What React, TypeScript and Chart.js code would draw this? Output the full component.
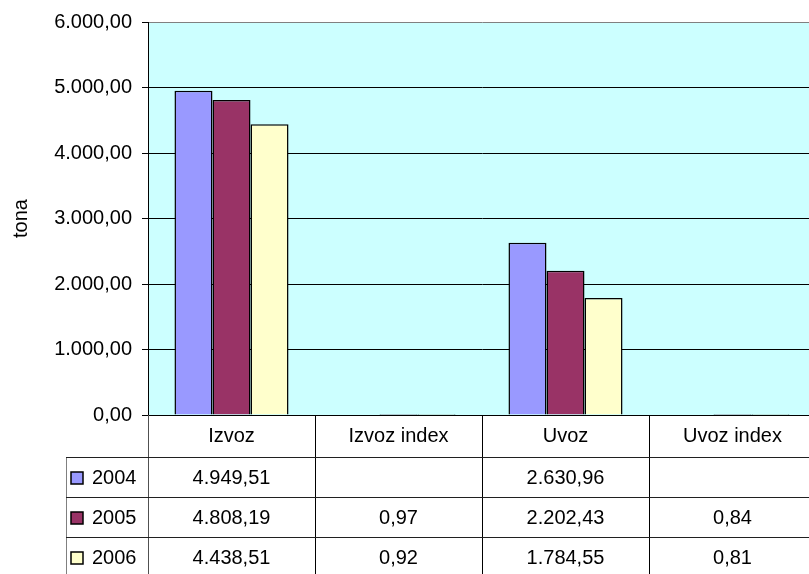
import React, { useEffect, useRef } from "react";
import { Chart, registerables } from "chart.js";

Chart.register(...registerables);

const categories = ["Izvoz", "Izvoz index", "Uvoz", "Uvoz index"];
const years = ["2004", "2005", "2006"];
const values2004: (number | null)[] = [4949.51, null, 2630.96, null];
const values2005: (number | null)[] = [4808.19, 0.97, 2202.43, 0.84];
const values2006: (number | null)[] = [4438.51, 0.92, 1784.55, 0.81];
const series = [values2004, values2005, values2006];
const colors = ["#9999FF", "#993366", "#FFFFCC"];
const yTicks = [0, 1000, 2000, 3000, 4000, 5000, 6000];
const yTitle = "tona";

const FONT_FAMILY = "'Liberation Sans', Arial, sans-serif";
const FONT_SIZE = 20;

function fmt(v: number): string {
  const neg = v < 0;
  const s = Math.abs(v).toFixed(2);
  const [intPart, dec] = s.split(".");
  const withDots = intPart.replace(/\B(?=(\d{3})+(?!\d))/g, ".");
  return (neg ? "-" : "") + withDots + "," + dec;
}

const tablePlugin = {
  id: "dataTable",
  beforeDraw(chart: any) {
    const ctx = chart.ctx;
    const { left, top, right, bottom } = chart.chartArea;
    ctx.save();
    ctx.fillStyle = "#FFFFFF";
    ctx.fillRect(0, 0, chart.width, chart.height);
    ctx.fillStyle = "#CCFFFF";
    ctx.fillRect(left, top, right - left, bottom - top);
    ctx.restore();
  },
  afterDraw(chart: any) {
    const ctx = chart.ctx;
    const { left, right, bottom } = chart.chartArea;
    const n = categories.length;
    const colW = (right - left) / n;
    const H = chart.height;
    const W = chart.width;
    const headerBottom = bottom + 42;
    const rowTops = [headerBottom, headerBottom + 40, headerBottom + 80];
    const legendLeft = 66;

    ctx.save();
    ctx.lineWidth = 1;
    // vertical column dividers
    ctx.strokeStyle = "#000000";
    for (let i = 1; i <= n; i++) {
      const x = Math.round(left + i * colW) + 0.5;
      ctx.beginPath();
      ctx.moveTo(x, bottom);
      ctx.lineTo(x, H);
      ctx.stroke();
    }
    // axis continuation
    ctx.strokeStyle = "#505050";
    ctx.beginPath();
    ctx.moveTo(Math.floor(left) + 0.5, bottom);
    ctx.lineTo(Math.floor(left) + 0.5, H);
    ctx.stroke();
    // legend column left border
    ctx.strokeStyle = "#808080";
    ctx.beginPath();
    ctx.moveTo(legendLeft + 0.5, headerBottom);
    ctx.lineTo(legendLeft + 0.5, H);
    ctx.stroke();
    // horizontal row lines
    ctx.strokeStyle = "#202020";
    for (const y of rowTops) {
      ctx.beginPath();
      ctx.moveTo(legendLeft, Math.round(y) + 0.5);
      ctx.lineTo(W, Math.round(y) + 0.5);
      ctx.stroke();
    }

    // text
    ctx.fillStyle = "#000000";
    ctx.font = `${FONT_SIZE}px ${FONT_FAMILY}`;
    ctx.textBaseline = "alphabetic";
    ctx.textAlign = "center";
    for (let i = 0; i < n; i++) {
      const cx = left + (i + 0.5) * colW;
      ctx.fillText(categories[i], cx, bottom + 26.5);
    }
    for (let r = 0; r < years.length; r++) {
      const baseY = rowTops[r] + 27;
      for (let i = 0; i < n; i++) {
        const v = series[r][i];
        if (v === null || v === undefined) continue;
        const cx = left + (i + 0.5) * colW;
        ctx.textAlign = "center";
        ctx.fillText(fmt(v), cx, baseY);
      }
      // legend key
      ctx.fillStyle = colors[r];
      ctx.fillRect(71, baseY - 12, 12, 12);
      ctx.strokeStyle = "#000000";
      ctx.lineWidth = 1.5;
      ctx.strokeRect(71, baseY - 12, 12, 12);
      ctx.lineWidth = 1;
      ctx.fillStyle = "#000000";
      ctx.textAlign = "left";
      ctx.fillText(years[r], 92, baseY);
    }
    ctx.restore();
  },
};

export default function App() {
  const canvasRef = useRef<HTMLCanvasElement | null>(null);

  useEffect(() => {
    const canvas = canvasRef.current;
    if (!canvas) return;
    const chart = new Chart(canvas, {
      type: "bar",
      data: {
        labels: categories,
        datasets: years.map((y, i) => ({
          label: y,
          data: series[i] as any,
          backgroundColor: colors[i],
          borderColor: "#000000",
          borderWidth: 1.5,
          categoryPercentage: 0.683,
          barPercentage: 1,
        })),
      },
      options: {
        responsive: false,
        animation: false,
        layout: { padding: { left: 0, top: 20, right: 4, bottom: 159 } },
        plugins: {
          legend: { display: false },
          tooltip: { enabled: false },
        },
        scales: {
          x: { display: false },
          y: {
            min: 0,
            max: 6000,
            afterBuildTicks: (scale: any) => {
              scale.ticks = yTicks.map((v) => ({ value: v }));
            },
            afterFit: (scale: any) => {
              scale.width = 148;
            },
            ticks: {
              callback: (v: any) => fmt(Number(v)),
              color: "#000000",
              font: { family: FONT_FAMILY, size: FONT_SIZE },
              padding: 10,
            },
            grid: {
              color: (c: any) =>
                c.tick && c.tick.value === 6000 ? "#808080" : "#000000",
              tickColor: "#000000",
              lineWidth: 1,
              tickLength: 6,
              drawTicks: true,
            },
            border: { color: "#000000", width: 1 },
            title: {
              display: true,
              text: yTitle,
              color: "#000000",
              font: { family: FONT_FAMILY, size: FONT_SIZE },
              padding: { top: 9, bottom: 0 },
            },
          },
        },
      },
      plugins: [tablePlugin],
    });
    return () => chart.destroy();
  }, []);

  return (
    <div
      style={{
        position: "absolute",
        left: 0,
        top: 0,
        width: 809,
        height: 574,
        overflow: "hidden",
        background: "#FFFFFF",
      }}
    >
      <canvas
        ref={canvasRef}
        width={820}
        height={574}
        style={{ display: "block", width: 820, height: 574 }}
      />
    </div>
  );
}
